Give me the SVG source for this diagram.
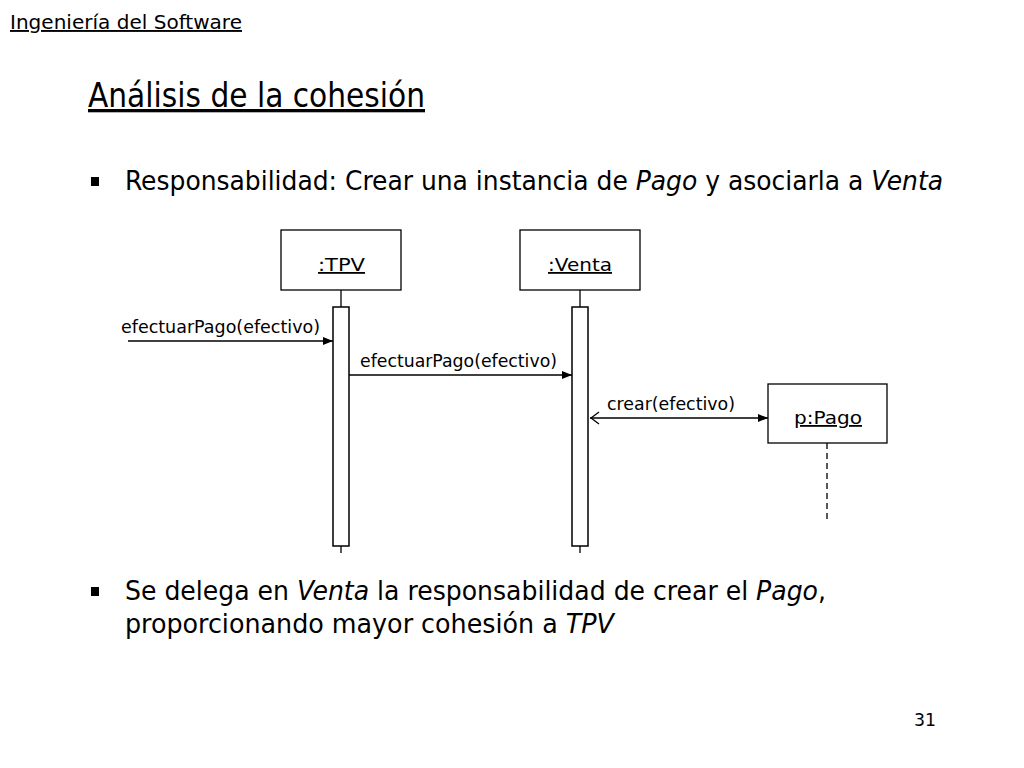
<svg xmlns="http://www.w3.org/2000/svg" width="1024" height="768" viewBox="0 0 1024 768">
<defs>
<style>
text{font-family:"DejaVu Sans","Liberation Sans",sans-serif;fill:#000}
.cond{font-family:"DejaVu Sans Condensed","DejaVu Sans",sans-serif}
.lbl{font-size:17px}
.name{font-size:18px;text-decoration:underline}
.box{fill:#fff;stroke:#000;stroke-width:1.3}
.act{fill:#fff;stroke:#000;stroke-width:1.5}
.ln{stroke:#000;stroke-width:1.3;fill:none}
.u{text-decoration:underline}
</style>
<marker id="fill" viewBox="0 0 10 10" refX="10" refY="5" markerWidth="10" markerHeight="10" markerUnits="userSpaceOnUse" orient="auto">
<path d="M0,1 L10,5 L0,9 Z" fill="#000"/>
</marker>
<marker id="open" viewBox="0 0 10 14" refX="0" refY="7" markerWidth="10" markerHeight="14" markerUnits="userSpaceOnUse" orient="auto">
<path d="M9,1 L1,7 L9,13" fill="none" stroke="#000" stroke-width="1.3"/>
</marker>
</defs>
<rect width="1024" height="768" fill="#fff"/>

<text x="10" y="29" font-size="19" class="u" textLength="232" lengthAdjust="spacingAndGlyphs">Ingeniería del Software</text>
<text x="88" y="107" font-size="33" class="u" textLength="337" lengthAdjust="spacingAndGlyphs">Análisis de la cohesión</text>

<rect x="91" y="177" width="8" height="9" fill="#000"/>
<text x="125" y="190" font-size="26" class="cond" textLength="818" lengthAdjust="spacingAndGlyphs">Responsabilidad: Crear una instancia de <tspan font-style="italic">Pago</tspan> y asociarla a <tspan font-style="italic">Venta</tspan></text>

<g id="connectors">
<line class="ln" x1="341" y1="290" x2="341" y2="307"/>
<line class="ln" x1="341" y1="546" x2="341" y2="553"/>
<line class="ln" x1="580" y1="290" x2="580" y2="307"/>
<line class="ln" x1="580" y1="546" x2="580" y2="553"/>
<line class="ln" x1="827" y1="443" x2="827" y2="520" stroke-dasharray="6,4"/>
<line class="ln" x1="128" y1="341" x2="333" y2="341" marker-end="url(#fill)"/>
<text class="lbl" x="121" y="333" textLength="199" lengthAdjust="spacingAndGlyphs">efectuarPago(efectivo)</text>
<line class="ln" x1="349" y1="375" x2="572" y2="375" marker-end="url(#fill)"/>
<text class="lbl" x="360" y="367" textLength="197" lengthAdjust="spacingAndGlyphs">efectuarPago(efectivo)</text>
<line class="ln" x1="590" y1="418" x2="768" y2="418" marker-start="url(#open)" marker-end="url(#fill)"/>
<text class="lbl" x="607" y="410" textLength="128" lengthAdjust="spacingAndGlyphs">crear(efectivo)</text>
</g>

<g id="tpv">
<rect class="box" x="281" y="230" width="120" height="60"/>
<text class="name" x="318" y="271" textLength="47" lengthAdjust="spacingAndGlyphs">:TPV</text>
<rect class="act" x="333" y="307" width="16" height="239"/>
</g>
<g id="venta">
<rect class="box" x="520" y="230" width="120" height="60"/>
<text class="name" x="548" y="271" textLength="64" lengthAdjust="spacingAndGlyphs">:Venta</text>
<rect class="act" x="572" y="307" width="16" height="239"/>
</g>
<g id="pago">
<rect class="box" x="768" y="384" width="119" height="59"/>
<text class="name" x="794" y="424" textLength="68" lengthAdjust="spacingAndGlyphs">p:Pago</text>
</g>

<rect x="91" y="587" width="8" height="9" fill="#000"/>
<text x="125" y="600" font-size="26" class="cond" textLength="701" lengthAdjust="spacingAndGlyphs">Se delega en <tspan font-style="italic">Venta</tspan> la responsabilidad de crear el <tspan font-style="italic">Pago</tspan>,</text>
<text x="125" y="633" font-size="26" class="cond" textLength="489" lengthAdjust="spacingAndGlyphs">proporcionando mayor cohesión a <tspan font-style="italic">TPV</tspan></text>

<text x="914" y="726" font-size="18" textLength="22" lengthAdjust="spacingAndGlyphs">31</text>
</svg>
